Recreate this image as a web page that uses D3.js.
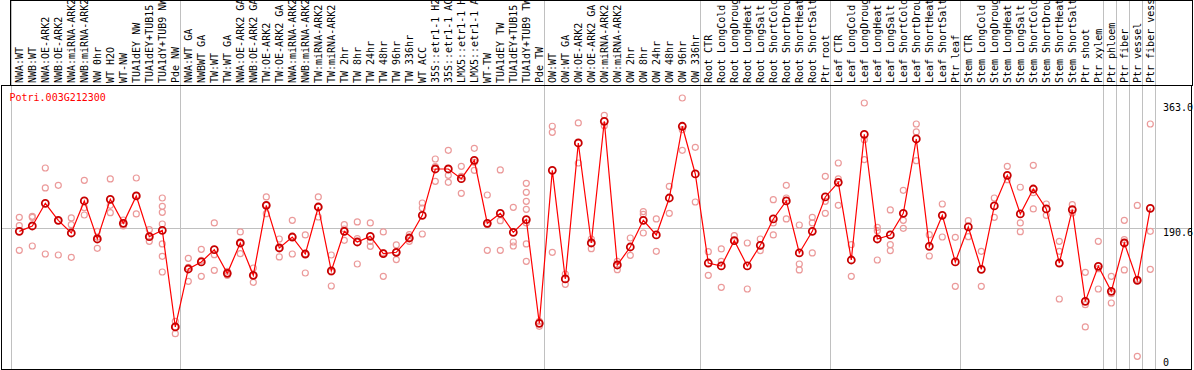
<!DOCTYPE html>
<html>
<head>
<meta charset="utf-8">
<script src="https://cdn.jsdelivr.net/npm/d3@7"></script>
<style>
  body { margin: 0; background: #fff; }
  svg { display: block; }
</style>
</head>
<body>
<div id="chart"></div>
<script>
// gene shown in the chart
var geneId = "Potri.003G212300";

// sample names, left to right
var categories = [
  "NWA:WT", "NWB:WT", "NWA:OE-ARK2", "NWB:OE-ARK2", "NWA:miRNA-ARK2", "NWB:miRNA-ARK2",
  "NW 0hr", "WT H2O", "WT-NW", "TUA1dEY NW", "TUA1dEY+TUB15 NW", "TUA1dY+TUB9 NW", "Pde NW",
  "NWA:WT GA", "NWBWT GA", "TW:WT", "TW:WT GA", "NWA:OE-ARK2 GA", "NWB:OE-ARK2 GA",
  "TW:OE-ARK2", "TW:OE-ARK2 GA", "NWA:miRNA-ARK2", "NWB:miRNA-ARK2", "TW:miRNA-ARK2", "TW:miRNA-ARK2",
  "TW 2hr", "TW 8hr", "TW 24hr", "TW 48hr", "TW 96hr", "TW 336hr", "WT ACC",
  "35S::etr1-1 H2O", "35S::etr1-1 ACC", "LMX5::etr1-1 H2O", "LMX5::etr1-1 ACC",
  "WT-TW", "TUA1dEY TW", "TUA1dEY+TUB15 TW", "TUA1dY+TUB9 TW", "Pde TW",
  "OW:WT", "OW:WT GA", "OW:OE-ARK2", "OW:OE-ARK2 GA", "OW:miRNA-ARK2", "OW:miRNA-ARK2",
  "OW 2hr", "OW 8hr", "OW 24hr", "OW 48hr", "OW 96hr", "OW 336hr",
  "Root CTR", "Root LongCold", "Root LongDrought", "Root LongHeat", "Root LongSalt",
  "Root ShortCold", "Root ShortDrought", "Root ShortHeat", "Root ShortSalt", "Ptr root",
  "Leaf CTR", "Leaf LongCold", "Leaf LongDrought", "Leaf LongHeat", "Leaf LongSalt",
  "Leaf ShortCold", "Leaf ShortDrought", "Leaf ShortHeat", "Leaf ShortSalt", "Ptr leaf",
  "Stem CTR", "Stem LongCold", "Stem LongDrought", "Stem LongHeat", "Stem LongSalt",
  "Stem ShortCold", "Stem ShortDrought", "Stem ShortHeat", "Stem ShortSalt", "Ptr shoot", "Ptr xylem",
  "Ptr phloem", "Ptr fiber", "Ptr vessel", "Ptr fiber vessel"
];

// mean expression per sample
var means = [
  186.6, 193.7, 223.7, 201.2, 184.4, 226.8, 176.5, 229.0, 197.2, 233.4, 179.6, 188.0, 60.1,
  136.8, 146.1, 162.4, 131.1, 171.2, 128.4, 221.0, 164.6, 179.1, 156.6, 218.8, 134.2,
  186.6, 172.5, 180.0, 157.1, 158.9, 177.8, 207.8, 269.1, 269.1, 256.3, 280.6,
  197.2, 210.4, 185.3, 202.1, 64.9,
  267.3, 123.6, 303.5, 171.2, 332.2, 142.1, 165.9, 201.2, 181.8, 230.7, 325.6, 262.5,
  144.7, 140.8, 174.3, 140.8, 168.1, 203.0, 226.8, 158.0, 186.6, 232.1,
  251.5, 148.7, 315.0, 176.5, 181.8, 210.4, 308.8, 166.8, 207.8, 146.1,
  192.4, 136.4, 220.2, 260.7, 209.6, 242.6, 216.2, 144.7, 215.3, 94.0, 140.3,
  107.3, 171.2, 121.8, 217.1
];

// individual replicate values per sample
var replicates = [
  [205.2, 194.1, 161.5], [206.5, 205.2, 167.2], [270.4, 244.0, 156.6], [247.5, 200.7, 155.3],
  [204.3, 195.4, 152.2], [254.1, 217.9, 208.2], [186.6, 178.7, 164.1], [255.9, 221.0, 211.3],
  [201.6, 196.3, 193.7], [257.2, 233.4, 209.6], [188.8, 179.1, 173.4],
  [230.7, 219.7, 211.8, 196.3, 169.9, 153.6, 132.8], [67.6, 60.1, 51.2],
  [150.9, 139.0, 120.5], [162.8, 148.3, 127.1], [197.7, 155.8, 135.0], [133.7, 131.1, 128.4],
  [185.8, 170.8, 157.1], [138.1, 128.0, 119.2], [232.1, 221.0, 210.0], [176.5, 164.6, 152.7],
  [201.2, 179.6, 156.6], [181.8, 156.6, 131.5], [232.1, 218.8, 205.6], [155.3, 132.8, 114.3],
  [195.4, 189.7, 174.7], [199.0, 176.9, 143.4], [197.7, 173.4, 166.8], [185.8, 158.4, 127.1],
  [168.6, 158.9, 149.2], [182.2, 177.8, 173.4], [224.1, 217.5, 183.1], [282.3, 272.2, 252.8],
  [293.8, 260.7, 251.5], [272.6, 259.4, 236.9], [296.4, 277.9, 267.3], [234.7, 195.4, 161.5],
  [267.8, 200.7, 161.5], [218.4, 172.5, 167.2],
  [250.1, 238.2, 226.3, 215.7, 197.7, 169.9, 146.9], [67.6, 60.9],
  [325.6, 317.6, 158.9], [130.2, 116.5], [330.0, 277.0], [176.5, 163.7], [340.1, 326.4],
  [146.9, 135.9], [177.8, 154.9], [212.7, 209.1, 184.4], [203.0, 160.2], [246.2, 210.4],
  [363.0, 321.1, 293.8], [297.8, 225.4],
  [159.7, 128.4], [163.3, 146.9, 112.5], [180.9, 173.4], [171.2, 110.3], [176.5, 161.1],
  [228.5, 197.7, 181.8], [247.5, 230.7, 203.0], [195.0, 143.4, 135.5], [205.2, 197.7, 158.0],
  [259.4, 226.3, 210.4],
  [277.0, 255.9, 221.0], [169.0, 127.1], [356.4, 307.9, 281.5], [191.9, 187.5, 148.7],
  [214.9, 169.0, 161.1], [240.9, 201.2, 190.6], [328.6, 318.1, 280.1], [182.2, 154.0],
  [222.8, 179.1], [178.7, 113.9],
  [200.7, 179.6], [160.2, 113.9], [230.7, 205.2], [272.6, 255.0], [244.9, 197.7, 186.2],
  [274.0, 237.8, 216.2], [222.8, 207.8], [173.4, 160.2, 97.1], [221.9, 210.9],
  [132.4, 89.6, 60.1], [173.4, 137.2, 110.3],
  [127.1, 104.2, 91.8], [201.2, 175.6, 135.5], [220.9, 123.1, 21.3], [328.6, 186.6, 136.4]
];

// labels on the right side
var axisValues = [363.0, 190.6, 0];
var refValue = 190.6;

// indices where a new group of samples starts
var separators = [0, 13, 41, 53, 63, 73, 84, 85, 86, 87, 88];

var w = 1194;
var h = 370;
var labelBottom = 85;

var svg = d3.select("#chart").append("svg")
    .attr("width", w)
    .attr("height", h)
    .style("font-family", "'DejaVu Sans Mono', monospace")
    .style("font-size", "10px");

var xBand = d3.scaleBand()
    .domain(d3.range(categories.length))
    .range([11.2, 11.2 + 13 * categories.length]);

function x(i) { return xBand(i) + 8.1; }
function sepX(k) {
    var v = k < categories.length ? xBand(k) : xBand.range()[1];
    return Math.floor(v) + 0.5;
}

var y = d3.scaleLinear()
    .domain([0, 363])
    .range([372.4, 98]);

var grid = "#c0c0c0";

// ---- label strip ----
svg.append("clipPath").attr("id", "labclip")
  .append("rect").attr("x", 10).attr("y", 1).attr("width", 1182).attr("height", labelBottom - 1);

svg.append("g").selectAll("line")
    .data(separators)
    .enter().append("line")
    .attr("x1", sepX).attr("x2", sepX)
    .attr("y1", 0).attr("y2", labelBottom)
    .attr("stroke", grid);

svg.append("g").attr("clip-path", "url(#labclip)")
    .selectAll("text")
    .data(categories)
    .enter().append("text")
    .attr("transform", function(d, i) {
        return "translate(" + (x(i) + 3.5) + "," + 83 + ") rotate(-90)";
    })
    .attr("fill", "#000")
    .text(function(d) { return d; });

svg.append("rect")
    .attr("x", 10.5).attr("y", 0.5)
    .attr("width", 1182).attr("height", labelBottom)
    .attr("fill", "none").attr("stroke", "#000");

// ---- plot area ----
svg.append("g").selectAll("line")
    .data(separators)
    .enter().append("line")
    .attr("x1", sepX).attr("x2", sepX)
    .attr("y1", labelBottom).attr("y2", 369)
    .attr("stroke", grid);

svg.append("line")
    .attr("x1", 1.5).attr("x2", 1191.5)
    .attr("y1", Math.round(y(refValue)) + 0.5).attr("y2", Math.round(y(refValue)) + 0.5)
    .attr("stroke", grid);

svg.append("rect")
    .attr("x", 1.5).attr("y", labelBottom + 0.5)
    .attr("width", 1190).attr("height", 369 - labelBottom)
    .attr("fill", "none").attr("stroke", "#000");

// right side value labels, kept inside the frame
svg.append("g").selectAll("text")
    .data(axisValues)
    .enter().append("text")
    .attr("x", 1163)
    .attr("y", function(d) {
        var top = Math.min(Math.max(y(d), 103), 358.7);
        return top + 7.5;
    })
    .attr("fill", "#000")
    .text(function(d) { return d === 0 ? "0" : d.toFixed(1); });

svg.append("text")
    .attr("x", 9.5).attr("y", 100.5)
    .attr("fill", "#ff0000")
    .text(geneId);

// replicate dots
var repGroups = svg.append("g").selectAll("g")
    .data(replicates)
    .enter().append("g");

repGroups.selectAll("circle")
    .data(function(d, i) { return d.map(function(v) { return { i: i, v: v }; }); })
    .enter().append("circle")
    .attr("cx", function(d) { return x(d.i); })
    .attr("cy", function(d) { return y(d.v); })
    .attr("r", 3)
    .attr("fill", "none")
    .attr("stroke", "#eb9a9a")
    .attr("stroke-width", 1.2);

// mean line
var line = d3.line()
    .x(function(d, i) { return x(i); })
    .y(function(d) { return y(d); });

svg.append("path")
    .datum(means)
    .attr("d", line)
    .attr("fill", "none")
    .attr("stroke", "#ff0000")
    .attr("stroke-width", 1.2);

svg.append("g").selectAll("circle")
    .data(means)
    .enter().append("circle")
    .attr("cx", function(d, i) { return x(i); })
    .attr("cy", function(d) { return y(d); })
    .attr("r", 3.5)
    .attr("fill", "none")
    .attr("stroke", "#c80000")
    .attr("stroke-width", 1.8);
</script>
</body>
</html>
